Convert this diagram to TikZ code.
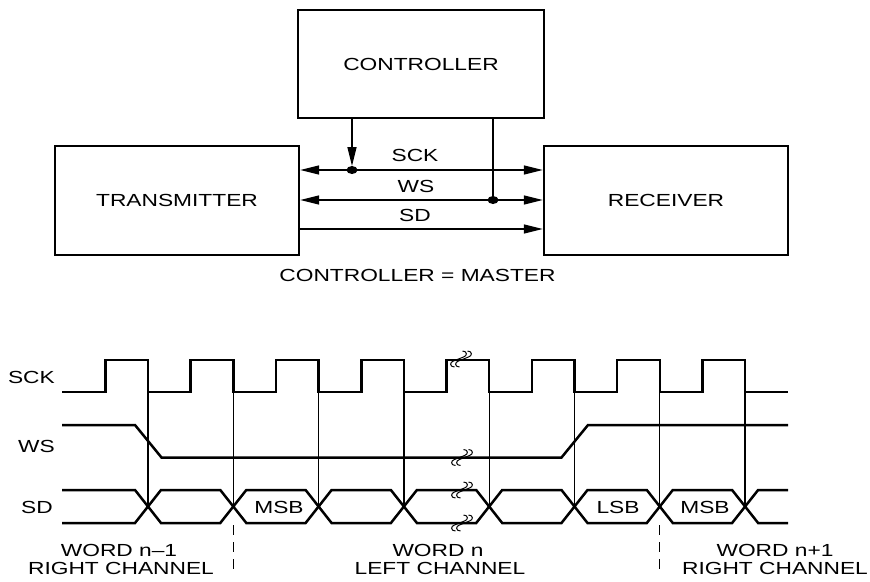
\documentclass[tikz,border=0pt]{standalone}
\usepackage{fontspec}
\setmainfont[FakeStretch=1.3]{Liberation Sans}
\usetikzlibrary{arrows.meta}
\begin{document}
\begin{tikzpicture}[x=1pt,y=-1pt,
  lbl/.style={font=\fontsize{17.5}{18.5}\selectfont, inner sep=0pt},
  box/.style={draw, line width=2.3pt, minimum width=244pt, minimum height=109pt, inner sep=0pt, font=\fontsize{17.5}{18.5}\selectfont},
  sig/.style={line width=1.4pt},
  >={Triangle[length=19pt,width=9pt]},
  wave/.style={line width=2.5pt, line join=miter},
  guide/.style={line width=1.3pt},
  brk/.pic={\foreach \d in {-2.5,2.5}{
     \draw[line width=1pt, shift={(\d,0)}] (-4,8) .. controls (-9,8) and (-9,3) .. (-5,2) -- (5,-2) .. controls (9,-3) and (9,-8) .. (4,-8);}}
]
\useasboundingbox (0,0) rectangle (870,581);

% ---------- block diagram ----------
\node[box, minimum width=246pt, minimum height=108pt] (ctl) at (421,64) {CONTROLLER};
\node[box] (tx) at (177,200.5) {TRANSMITTER};
\node[box] (rx) at (666,200.5) {RECEIVER};

\coordinate (ySCK) at (0,170);
\coordinate (yWS) at (0,200);
\coordinate (ySD) at (0,229);
\coordinate (dA) at (352,170);
\coordinate (dB) at (493,200);

\draw[sig,<->] (tx.east |- ySCK) -- (rx.west |- ySCK);
\draw[sig,<->] (tx.east |- yWS) -- (rx.west |- yWS);
\draw[sig,->] (tx.east |- ySD) -- (rx.west |- ySD);
\draw[sig,->,shorten >=4pt] (ctl.south -| dA) -- (dA);
\draw[sig] (ctl.south -| dB) -- (dB);
\fill (dA) ellipse [x radius=5.5pt, y radius=4pt];
\fill (dB) ellipse [x radius=5.5pt, y radius=4pt];

\node[lbl] (lSCK) at (415,155) {SCK};
\node[lbl] (lWS) at (416,186) {WS};
\node[lbl] (lSD) at (415,215) {SD};
\node[lbl] (master) at (417.5,275) {CONTROLLER = MASTER};

% ---------- timing diagram ----------
\node[lbl, anchor=east] (tSCK) at (55,377.5) {SCK};
\node[lbl, anchor=east] (tWS) at (55,446.5) {WS};
\node[lbl, anchor=east] (tSD) at (53,507.5) {SD};

% SCK
\draw[wave] (62,392)
  \foreach \k in {0,...,7} { -- ({148+85.3*\k-42.6},392) -- ({148+85.3*\k-42.6},360) -- ({148+85.3*\k},360) -- ({148+85.3*\k},392) }
  -- (788,392);

% WS
\draw[wave] (62,425) -- (135,425) -- (161.5,457.5) -- (561.5,457.5) -- (588,425) -- (788,425);

% SD
\draw[wave] (62,490) -- (135,490) -- (148,506.5) -- (135,523) -- (62,523);
\foreach \k in {0,...,6}{
  \pgfmathsetmacro{\a}{148+85.3*\k}
  \pgfmathsetmacro{\b}{148+85.3*(\k+1)}
  \draw[wave] (\a,506.5) -- (\a+13,490) -- (\b-13,490) -- (\b,506.5) -- (\b-13,523) -- (\a+13,523) -- cycle;
}
\draw[wave] (788,490) -- (758.1,490) -- (745.1,506.5) -- (758.1,523) -- (788,523);

% guides
\foreach \k in {0,...,7}{
  \draw[guide] ({148+85.3*\k},392) -- ({148+85.3*\k},506.5);
}
\draw[guide, dash pattern=on 10pt off 7pt] (233.3,525) -- (233.3,576);
\draw[guide, dash pattern=on 10pt off 7pt] (659.8,525) -- (659.8,576);

% breaks
\pic at (461,359) {brk};
\pic at (462,457.5) {brk};
\pic at (462,490) {brk};
\pic at (462,523) {brk};

% data labels
\node[lbl] (msb1) at (279,507) {MSB};
\node[lbl] (lsb) at (618,507) {LSB};
\node[lbl] (msb2) at (705,507) {MSB};

% word labels
\node[lbl] (w1a) at (119,550) {WORD n--1};
\node[lbl] (w1b) at (121,568.5) {RIGHT CHANNEL};
\node[lbl] (w2a) at (438,550) {WORD n};
\node[lbl] (w2b) at (440,568.5) {LEFT CHANNEL};
\node[lbl] (w3a) at (775,550) {WORD n+1};
\node[lbl] (w3b) at (775,568.5) {RIGHT CHANNEL};
\end{tikzpicture}
\end{document}
